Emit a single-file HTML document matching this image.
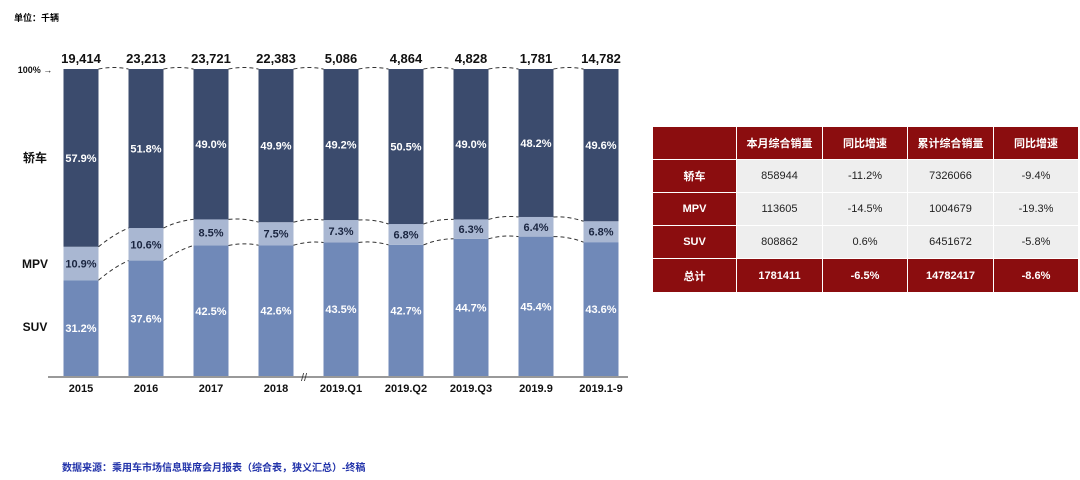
<!DOCTYPE html>
<html><head><meta charset="utf-8"><style>
body{margin:0;width:1080px;height:480px;background:#fff;overflow:hidden;font-family:"Liberation Sans","Noto Sans CJK SC",sans-serif;}
#wrap{position:relative;width:1080px;height:480px;}
table{position:absolute;left:652px;top:126px;border-collapse:separate;border-spacing:1px;font-size:11px;}
td{text-align:center;height:32px;padding:0;}
.h{background:#8b0d0f;color:#fff;font-weight:bold;}
.c{background:#eeeeee;color:#222;}
</style></head><body><div id="wrap">
<div style="position:absolute;left:14px;top:11px;font-size:9px;font-weight:bold;">单位：千辆</div>
<svg id="chart" width="640" height="420" style="position:absolute;left:0;top:0"></svg>
<table>
<tr><td class="h" style="width:83px"></td><td class="h" style="width:85px">本月综合销量</td><td class="h" style="width:84px">同比增速</td><td class="h" style="width:85px">累计综合销量</td><td class="h" style="width:84px">同比增速</td></tr>
<tr><td class="h">轿车</td><td class="c">858944</td><td class="c">-11.2%</td><td class="c">7326066</td><td class="c">-9.4%</td></tr>
<tr><td class="h">MPV</td><td class="c">113605</td><td class="c">-14.5%</td><td class="c">1004679</td><td class="c">-19.3%</td></tr>
<tr><td class="h">SUV</td><td class="c">808862</td><td class="c">0.6%</td><td class="c">6451672</td><td class="c">-5.8%</td></tr>
<tr><td class="h" style="height:33px">总计</td><td class="h">1781411</td><td class="h">-6.5%</td><td class="h">14782417</td><td class="h">-8.6%</td></tr>
</table>
<div style="position:absolute;left:62px;top:459px;font-size:10px;font-weight:bold;color:#2233aa;">数据来源：乘用车市场信息联席会月报表（综合表，狭义汇总）-终稿</div>
</div>
<script>
const categories=["2015","2016","2017","2018","2019.Q1","2019.Q2","2019.Q3","2019.9","2019.1-9"];
const totals=["19,414","23,213","23,721","22,383","5,086","4,864","4,828","1,781","14,782"];
const suv=[31.2,37.6,42.5,42.6,43.5,42.7,44.7,45.4,43.6];
const mpv=[10.9,10.6,8.5,7.5,7.3,6.8,6.3,6.4,6.8];
const sedan=[57.9,51.8,49.0,49.9,49.2,50.5,49.0,48.2,49.6];
const svg=document.getElementById('chart');const NS='http://www.w3.org/2000/svg';
const top0=69,bot=376,x0=81,step=65,bw=35;
const y=p=>bot-(p/100)*(bot-top0);const xc=i=>x0+i*step;
function mk(t,a,parent){const e=document.createElementNS(NS,t);for(const k in a)e.setAttribute(k,a[k]);(parent||svg).appendChild(e);return e;}
function txt(s,x,yy,a){const e=mk('text',Object.assign({x:x,y:yy,'text-anchor':'middle','font-weight':'bold','font-family':'Liberation Sans, Noto Sans CJK SC, sans-serif'},a));e.textContent=s;return e;}
const segs=[{v:suv,c:'#7089b8',t:'#fff',n:'suv'},{v:mpv,c:'#a9b7d2',t:'#1a2540',n:'mpv'},{v:sedan,c:'#3b4b6d',t:'#fff',n:'sedan'}];
categories.forEach((c,i)=>{let base=0;segs.forEach(s=>{const v=s.v[i];const r=mk('rect',{x:xc(i)-bw/2,y:y(base+v),width:bw,height:y(base)-y(base+v),fill:s.c});


const t=txt(v.toFixed(1)+'%',xc(i),(y(base)+y(base+v))/2+4,{fill:s.t,'font-size':'11'});


base+=v;});
const tt=txt(totals[i],xc(i),63,{'font-size':'13',fill:'#111'});


const cl=txt(c,xc(i),392,{'font-size':'11',fill:'#111'});


if(i<categories.length-1){[suv[i],suv[i]+mpv[i],100].forEach((p,k)=>{const q=[suv[i+1],suv[i+1]+mpv[i+1],100][k];
const l=mk('path',{d:`M${xc(i)+bw/2},${y(p)} Q${(xc(i)+xc(i+1))/2},${(y(p)+y(q))/2-3} ${xc(i+1)-bw/2},${y(q)}`,fill:'none',stroke:'#333','stroke-dasharray':'4,3','stroke-width':'1'});

});}
});
const ax=mk('line',{x1:48,x2:628,y1:bot+1,y2:bot+1,stroke:'#333','stroke-width':'1'});


const br=mk('text',{x:301,y:381,'font-size':'11',fill:'#333'});br.textContent='//';


const hl=txt('100% →',35,73,{'font-size':'9',fill:'#111'});


[['轿车',162],['MPV',268],['SUV',331]].forEach(a=>{const e=txt(a[0],35,a[1],{'font-size':'12',fill:'#111'});

});
</script></body></html>
